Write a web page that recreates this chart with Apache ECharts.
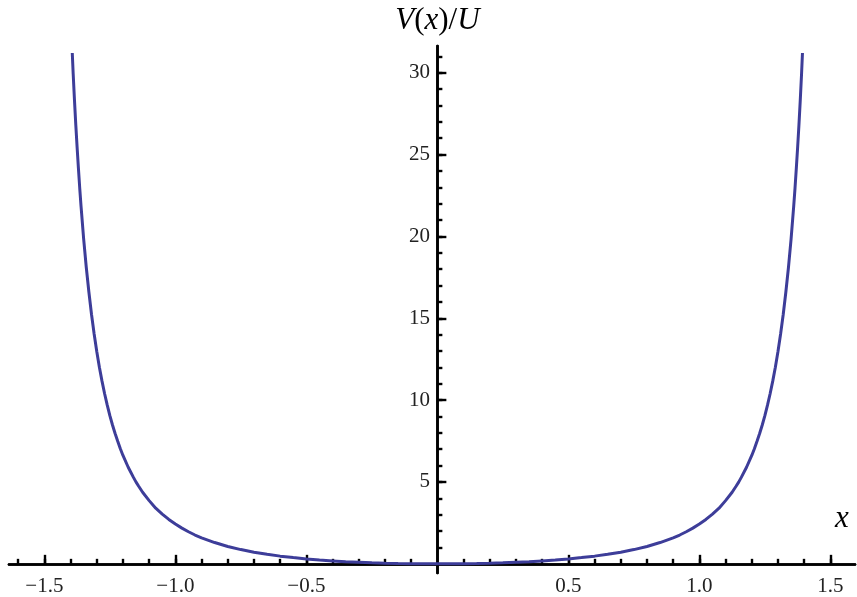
<!DOCTYPE html>
<html>
<head>
<meta charset="utf-8">
<script src="https://cdn.jsdelivr.net/npm/echarts@6/dist/echarts.min.js"></script>
<style>
  html, body { margin: 0; padding: 0; background: #fff; }
  #chart { width: 857px; height: 597px; }
</style>
</head>
<body>
<div id="chart"></div>
<script>
// curve V(x)/U
const xValues = [
  -1.3935, -1.39, -1.385, -1.38, -1.375, -1.37, -1.365, -1.36, -1.35, -1.34, -1.33, -1.32,
  -1.31, -1.30, -1.29, -1.28, -1.27, -1.26, -1.25, -1.24, -1.23, -1.22, -1.21, -1.20,
  -1.18, -1.16, -1.15, -1.14, -1.125, -1.10, -1.075, -1.05, -1.025, -1.00, -0.975, -0.95,
  -0.925, -0.90, -0.85, -0.80, -0.75, -0.70, -0.65, -0.60, -0.55, -0.50, -0.45, -0.40,
  -0.35, -0.30, -0.25, -0.20, -0.15, -0.10, -0.05, 0,
  0.05, 0.10, 0.15, 0.20, 0.25, 0.30, 0.35, 0.40, 0.45, 0.50, 0.55, 0.60,
  0.65, 0.70, 0.75, 0.80, 0.85, 0.90, 0.925, 0.95, 0.975, 1.00, 1.025, 1.05,
  1.075, 1.10, 1.125, 1.14, 1.15, 1.16, 1.18, 1.20, 1.21, 1.22, 1.23, 1.24,
  1.25, 1.26, 1.27, 1.28, 1.29, 1.30, 1.31, 1.32, 1.33, 1.34, 1.35, 1.36,
  1.365, 1.37, 1.375, 1.38, 1.385, 1.39, 1.3935
];
const vValues = [
  31.2, 29.92, 28.29, 26.80, 25.43, 24.15, 22.94, 21.84, 19.84, 18.10, 16.59, 15.23,
  14.04, 12.97, 12.01, 11.16, 10.39, 9.69, 9.05, 8.48, 7.96, 7.49, 7.03, 6.62,
  5.90, 5.28, 4.99, 4.74, 4.37, 3.86, 3.40, 3.04, 2.71, 2.43, 2.18, 1.96,
  1.76, 1.59, 1.30, 1.06, 0.87, 0.71, 0.58, 0.47, 0.38, 0.30, 0.23, 0.18,
  0.13, 0.10, 0.065, 0.04, 0.023, 0.01, 0.0025, 0,
  0.0025, 0.01, 0.023, 0.04, 0.065, 0.10, 0.13, 0.18, 0.23, 0.30, 0.38, 0.47,
  0.58, 0.71, 0.87, 1.06, 1.30, 1.59, 1.76, 1.96, 2.18, 2.43, 2.71, 3.04,
  3.40, 3.86, 4.37, 4.74, 4.99, 5.28, 5.90, 6.62, 7.03, 7.49, 7.96, 8.48,
  9.05, 9.69, 10.39, 11.16, 12.01, 12.97, 14.04, 15.23, 16.59, 18.10, 19.84, 21.84,
  22.94, 24.15, 25.43, 26.80, 28.29, 29.92, 31.2
];

const xTickValues = [-1.5, -1.0, -0.5, 0.5, 1.0, 1.5];
const xTickLabels = ['\u22121.5', '\u22121.0', '\u22120.5', '0.5', '1.0', '1.5'];
const yTickValues = [5, 10, 15, 20, 25, 30];
const yTickLabels = ['5', '10', '15', '20', '25', '30'];

const xMinor = [];
for (let i = -16; i <= 15; i++) if (i !== 0) xMinor.push(i / 10);
const yMinor = [];
for (let i = 1; i <= 31; i++) yMinor.push(i);

const X_MIN = -1.635, X_MAX = 1.594;
const Y_MIN = -0.56, Y_MAX = 31.63;

const FONT = '"Liberation Serif", "DejaVu Serif", serif';
const INK = '#000';
const LABEL = '#222';
const CURVE = '#3d3d99';

const chart = echarts.init(document.getElementById('chart'));

const axisLine = { onZero: true, onZeroAxisIndex: 0, lineStyle: { color: INK, width: 2.6 } };

// labels stay on the grid edge in v6, so pull them back next to the zero lines
const GRID = { left: 9, right: 2, top: 46, bottom: 24 };

chart.setOption({
  animation: false,
  backgroundColor: '#fff',
  grid: Object.assign({ containLabel: false, outerBoundsMode: 'none' }, GRID),
  xAxis: [
    {
      type: 'value', min: X_MIN, max: X_MAX, position: 'bottom',
      axisLine: axisLine,
      axisTick: { show: true, inside: true, length: 9, customValues: xTickValues,
                  lineStyle: { color: INK, width: 2.4 } },
      axisLabel: {
        show: true, customValues: xTickValues, margin: 3,
        color: LABEL, fontFamily: FONT, fontSize: 21,
        formatter: v => xTickLabels[xTickValues.findIndex(t => Math.abs(t - v) < 1e-6)] || ''
      },
      splitLine: { show: false }
    },
    {
      type: 'value', min: X_MIN, max: X_MAX, position: 'bottom',
      axisLine: axisLine,
      axisTick: { show: true, inside: true, length: 5, customValues: xMinor,
                  lineStyle: { color: INK, width: 2.4 } },
      axisLabel: { show: false },
      splitLine: { show: false }
    }
  ],
  yAxis: [
    {
      type: 'value', min: Y_MIN, max: Y_MAX, position: 'left',
      axisLine: axisLine,
      axisTick: { show: true, inside: true, length: 9, customValues: yTickValues,
                  lineStyle: { color: INK, width: 2.4 } },
      axisLabel: {
        show: true, customValues: yTickValues, margin: -421,
        color: LABEL, fontFamily: FONT, fontSize: 21,
        formatter: v => yTickLabels[yTickValues.indexOf(Math.round(v))] || ''
      },
      splitLine: { show: false },
      name: '{i|V}{n|(}{i|x}{n|)/}{i|U}',
      nameLocation: 'end',
      nameGap: 10,
      nameTextStyle: {
        rich: {
          i: { fontFamily: FONT, fontStyle: 'italic', fontSize: 31, color: INK },
          n: { fontFamily: FONT, fontSize: 31, color: INK }
        }
      }
    },
    {
      type: 'value', min: Y_MIN, max: Y_MAX, position: 'left',
      axisLine: axisLine,
      axisTick: { show: true, inside: true, length: 5, customValues: yMinor,
                  lineStyle: { color: INK, width: 2.4 } },
      axisLabel: { show: false },
      splitLine: { show: false }
    }
  ],
  graphic: [
    {
      type: 'text', left: 835, top: 503,
      style: { text: 'x', font: 'italic 31px ' + FONT, fill: INK }
    }
  ],
  series: [
    {
      type: 'line',
      xAxisIndex: 0, yAxisIndex: 0,
      data: xValues.map((x, i) => [x, vValues[i]]),
      showSymbol: false,
      smooth: false,
      lineStyle: { color: CURVE, width: 3 },
      clip: true
    }
  ]
});
</script>
</body>
</html>
